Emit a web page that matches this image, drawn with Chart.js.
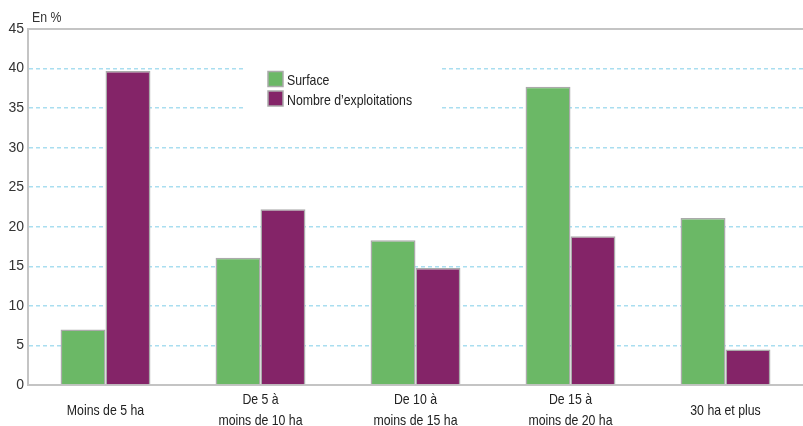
<!DOCTYPE html>
<html>
<head>
<meta charset="utf-8">
<script src="https://cdn.jsdelivr.net/npm/chart.js@4.4.1/dist/chart.umd.min.js"></script>
<style>
  html, body { margin: 0; padding: 0; background: #fff; }
  .wrap { width: 803px; height: 426px; position: relative; }
</style>
</head>
<body>
<div class="wrap"><canvas id="chart"></canvas></div>
<script>
const categories = [
  ["Moins de 5 ha"],
  ["De 5 à", "moins de 10 ha"],
  ["De 10 à", "moins de 15 ha"],
  ["De 15 à", "moins de 20 ha"],
  ["30 ha et plus"]
];
const surface = [7, 16.1, 18.3, 37.7, 21.1];
const exploitations = [39.7, 22.2, 14.8, 18.8, 4.5];
const seriesNames = ["Surface", "Nombre d’exploitations"];
const yTicks = [0, 5, 10, 15, 20, 25, 30, 35, 40, 45];

const FONT = "'Liberation Sans Narrow', 'Arial Narrow', 'Liberation Sans', sans-serif";
const GREEN = "#6bb866";
const PURPLE = "#842468";
const SQUEEZE = 0.82; // fake a condensed face

function narrowText(ctx, text, x, y) {
  ctx.save();
  ctx.translate(x, y);
  ctx.scale(SQUEEZE, 1);
  ctx.fillText(text, 0, 0);
  ctx.restore();
}

// top frame line, legend box, x labels and the "En %" caption
const decor = {
  id: "decor",
  beforeDatasetsDraw(chart) {
    const { ctx, chartArea } = chart;
    ctx.save();
    ctx.strokeStyle = "#c4c4c4";
    ctx.lineWidth = 2;
    ctx.beginPath();
    ctx.moveTo(chartArea.left, chartArea.top);
    ctx.lineTo(chartArea.right, chartArea.top);
    ctx.stroke();

    ctx.fillStyle = "#fff";
    ctx.fillRect(246, 48, 195, 72);

    const colors = [GREEN, PURPLE];
    ctx.font = "15px " + FONT;
    ctx.textBaseline = "middle";
    seriesNames.forEach((name, i) => {
      const y = 71.5 + i * 19.5;
      ctx.fillStyle = colors[i];
      ctx.fillRect(268, y, 15, 15);
      ctx.strokeStyle = "#aaa";
      ctx.lineWidth = 1.5;
      ctx.strokeRect(268, y, 15, 15);
      ctx.fillStyle = "#222";
      narrowText(ctx, name, 287, y + 9.5);
    });

    ctx.fillStyle = "#333";
    narrowText(ctx, "En %", 32, 18);

    // category labels, vertically centred under the axis
    const xScale = chart.scales.x;
    ctx.fillStyle = "#222";
    ctx.textAlign = "center";
    const mid = chartArea.bottom + 25.5;
    categories.forEach((lines, i) => {
      const x = xScale.getPixelForValue(i);
      const lh = 20.5;
      const y0 = mid - (lines.length - 1) * lh / 2;
      lines.forEach((t, j) => narrowText(ctx, t, x, y0 + j * lh));
    });
    ctx.restore();
  }
};

new Chart(document.getElementById("chart"), {
  type: "bar",
  data: {
    labels: categories,
    datasets: [
      {
        label: seriesNames[0],
        data: surface,
        backgroundColor: GREEN,
        borderColor: "#aaa",
        borderWidth: 1.5
      },
      {
        label: seriesNames[1],
        data: exploitations,
        backgroundColor: PURPLE,
        borderColor: "#aaa",
        borderWidth: 1.5
      }
    ]
  },
  options: {
    responsive: true,
    maintainAspectRatio: false,
    animation: false,
    layout: { padding: { top: 29, right: 0, left: 0, bottom: 0 } },
    datasets: { bar: { categoryPercentage: 0.58, barPercentage: 1 } },
    plugins: {
      legend: { display: false },
      tooltip: { enabled: false }
    },
    scales: {
      x: {
        grid: { display: false, drawTicks: false },
        border: { color: "#c4c4c4", width: 2 },
        ticks: { display: false },
        afterFit(scale) { scale.height = 41; }
      },
      y: {
        min: 0,
        max: 45,
        afterBuildTicks(scale) {
          scale.ticks = yTicks.map((v) => ({ value: v }));
        },
        afterFit(scale) { scale.width = 28; },
        grid: {
          drawTicks: false,
          lineWidth: 1.5,
          color: (c) => (c.tick && (c.tick.value === 0 || c.tick.value === 45)) ? "rgba(0,0,0,0)" : "#a9def0"
        },
        border: { color: "#c4c4c4", width: 2, dash: [4, 3] },
        ticks: {
          color: "#333",
          font: { family: FONT, size: 14 },
          padding: 4
        }
      }
    }
  },
  plugins: [decor]
});
</script>
</body>
</html>
